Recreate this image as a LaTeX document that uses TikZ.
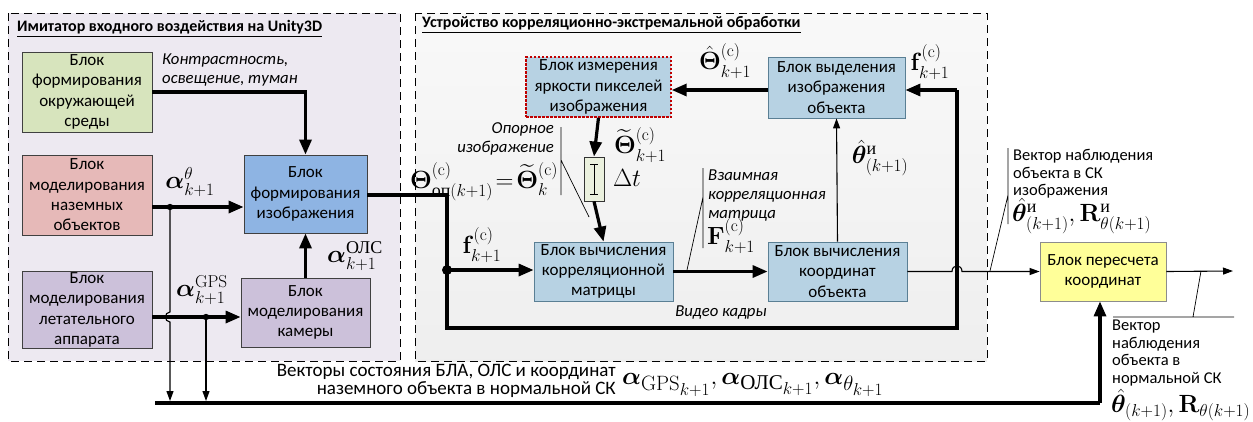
\documentclass[tikz,border=0pt]{standalone}
\usepackage{amsmath}
\usepackage{bm}
\usepackage[no-math]{fontspec}
\setmainfont{Carlito}
\newfontfamily\cyrserif{Liberation Serif}
\usetikzlibrary{arrows.meta,calc}
\DeclareMathSizes{24}{24}{18}{14}
\DeclareMathSizes{28}{28}{21}{16}
\newcommand{\cy}[1]{\text{\cyrserif #1}}
\newcommand{\bxf}{\fontsize{17}{20.3}\selectfont}
\newcommand{\itf}{\fontsize{16.7}{19}\selectfont\itshape}
\newcommand{\smf}{\fontsize{16.5}{17.7}\selectfont}
\newcommand{\fmf}{\fontsize{24}{28}\selectfont}
\definecolor{leftbg}{HTML}{EDE9F1}
\definecolor{midbg}{HTML}{EEEEEE}
\definecolor{envc}{HTML}{D7E4BD}
\definecolor{gndc}{HTML}{E6B9B8}
\definecolor{purc}{HTML}{CCC1DA}
\definecolor{imgc}{HTML}{8EB4E3}
\definecolor{stc}{HTML}{B7D2E3}
\definecolor{stb}{HTML}{5A7F94}
\definecolor{yelc}{HTML}{FFFF99}
\definecolor{dlyc}{HTML}{EBF1DE}
\definecolor{redb}{HTML}{C00000}
\begin{document}
\begin{tikzpicture}[x=1pt,y=-1pt,
  box/.style={draw=black!75, line width=0.8pt, align=center, font=\bxf, inner sep=1pt},
  sbox/.style={box, draw=stb, fill=stc},
  panel/.style={draw=black, line width=1pt, dash pattern=on 8pt off 5pt},
  thk/.style={line width=3.2pt},
  thkar/.style={thk, -{Triangle[length=15pt,width=12pt]}},
  thn/.style={line width=1.1pt},
  thnar/.style={thn, -{Triangle[length=10pt,width=7pt]}},
  fm/.style={font=\fmf, inner sep=0pt},
  ptr/.style={line width=0.7pt}]
\useasboundingbox (0,0) rectangle (1253,421);
% panels
\fill[leftbg] (8,13) rectangle (400,361);
\draw[panel] (8,13) rectangle (400,361);
\shade[top color=gray!5, bottom color=gray!13] (415,13) rectangle (987,361);
\draw[panel] (415,13) rectangle (987,361);
\node[anchor=west, font=\fontsize{16}{19}\selectfont\bfseries, inner sep=0pt] (t1) at (17,29) {\underline{Имитатор входного воздействия на Unity3D}};
\node[anchor=west, font=\fontsize{16}{19}\selectfont\bfseries, inner sep=0pt] (t2) at (422,25) {\underline{Устройство корреляционно-экстремальной обработки}};
% blocks left
\node[box, fill=envc, minimum width=130pt, minimum height=80pt] (env) at (87,92) {Блок\\формирования\\окружающей\\среды};
\node[box, fill=gndc, minimum width=130pt, minimum height=80pt] (gnd) at (87,195) {Блок\\моделирования\\наземных\\объектов};
\node[box, fill=purc, minimum width=130pt, minimum height=74pt] (uav) at (87,310) {Блок\\моделирования\\летательного\\аппарата};
\node[box, fill=imgc, minimum width=123pt, minimum height=78pt] (img) at (305.5,194) {Блок\\формирования\\изображения};
\node[box, fill=purc, minimum width=129pt, minimum height=69pt] (cam) at (305.5,312.5) {Блок\\моделирования\\камеры};
% blocks middle
\node[sbox, draw=redb, line width=1.4pt, dash pattern=on 2.5pt off 1.5pt, minimum width=145pt, minimum height=60pt] (meas) at (598.5,87) {Блок измерения\\яркости пикселей\\изображения};
\node[sbox, minimum width=137pt, minimum height=61pt] (sel) at (836.5,87.5) {Блок выделения\\изображения\\объекта};
\node[box, fill=dlyc, draw=black!80, minimum width=20pt, minimum height=44pt] (dly) at (594,179) {};
\node[sbox, minimum width=139pt, minimum height=59pt] (corr) at (603.5,271.5) {Блок вычисления\\корреляционной\\матрицы};
\node[sbox, minimum width=139pt, minimum height=59pt] (crd) at (837.5,271.5) {Блок вычисления\\координат\\объекта};
\node[box, fill=yelc, draw=black!45, minimum width=126pt, minimum height=59pt] (rec) at (1103,271.5) {Блок пересчета\\координат};
% delay symbol
\draw[line width=0.9pt] (590,164) -- (598,164) (594,164) -- (594,194) (590,194) -- (598,194);
% coordinates
\coordinate (j1) at (170,207);
\coordinate (j2) at (206,317);
\coordinate (j3) at (447,270);
\coordinate (c1) at (447,195);
\coordinate (c2) at (447,328);
\coordinate (c3) at (957,328);
\coordinate (c4) at (957,90);
\coordinate (outp) at (1233,271);
\coordinate (busl) at (155,403);
\coordinate (busr) at (1100,403);
% connectors left
\draw[thkar] (env.east) -| (img.north);
\draw[thk] (gnd.east |- j1) -- (j1);
\draw[thkar] (j1) -- (img.west |- j1);
\draw[thk] (uav.east |- j2) -- (j2);
\draw[thkar] (j2) -- (cam.west |- j2);
\draw[thkar] (cam.north) -- (img.south);
\fill (j1) circle (3.2);
\fill (j2) circle (3.2);
\draw[thnar] (j1) -- (170,312) .. controls (164,312) and (164,322) .. (170,322) -- (170,401);
\draw[thnar] (j2) -- (206,401);
% main loop
\draw[thk] (img.east |- c1) -- (c1) -- (c2) -- (c3) -- (c4);
\draw[thkar] (c4) -- (sel.east |- c4);
\fill (j3) circle (5);
\draw[thkar] (j3) -- (corr.west |- j3);
\draw[thkar] (sel.west |- c4) -- (meas.east |- c4);
\draw[thkar] (meas.south) -- (dly.north);
\draw[thkar] (dly.south) -- (corr.north);
\draw[thkar] (corr.east) -- (crd.west);
\draw[thnar] (crd.north) -- (sel.south);
\draw[thnar] (crd.east) -- (952,271.5) .. controls (952,264) and (962,264) .. (962,271.5) -- (rec.west);
\draw[thnar] (rec.east) -- (outp);
% bus
\draw[thk] (busl) -- (busr);
\draw[thkar] (busr) -- (busr |- rec.south);
% pointer lines
\draw[ptr] (561,127) -- (561,195) (561,160) -- (589,217);
\draw[ptr] (703,168) -- (703,248) (703,197) -- (687,270);
\draw[ptr] (1008,148) -- (1008,224) (1008,195) -- (990,271);
\draw[ptr] (1113,317) -- (1234,317) (1193,317) -- (1201,271);
% text labels
\node[anchor=west, align=left, font=\itf, inner sep=0pt] (lcon) at (162,70) {Контрастность,\\освещение, туман};
\node[anchor=east, align=right, font=\itf, inner sep=0pt] (lop) at (554,139) {Опорное\\изображение};
\node[anchor=west, align=left, font=\itf, inner sep=0pt] (lvz) at (708,196) {Взаимная\\корреляционная\\матрица};
\node[font=\itf, inner sep=0pt] (lvid) at (721,313) {Видео кадры};
\node[anchor=west, align=left, font=\smf, inner sep=0pt] (lvec1) at (1013,174) {Вектор наблюдения\\объекта в СК\\изображения};
\node[anchor=west, align=left, font=\smf, inner sep=0pt] (lvec2) at (1112,353) {Вектор\\наблюдения\\объекта в\\нормальной СК};
\node[anchor=east, align=right, font=\fontsize{19}{17.5}\selectfont, inner sep=0pt] (lbus) at (616,381) {Векторы состояния БЛА, ОЛС и координат\\наземного объекта в нормальной СК};
% formulas
\node[fm] (fa1) at (190,182) {$\bm{\alpha}^{\theta}_{k+1}$};
\node[fm] (fa2) at (202,290) {$\bm{\alpha}^{\mathrm{GPS}}_{k+1}$};
\node[fm] (fa3) at (355,256) {$\bm{\alpha}^{\cy{ОЛС}}_{k+1}$};
\node[fm] (fth1) at (725,61) {$\hat{\bm{\Theta}}^{(\mathrm{c})}_{k+1}$};
\node[fm] (fth2) at (640,145) {$\widetilde{\bm{\Theta}}^{(\mathrm{c})}_{k+1}$};
\node[fm] (fdt) at (627,178) {$\Delta t$};
\node[fm] (fop) at (484,182) {$\bm{\Theta}^{(\mathrm{c})}_{\cy{оп}(k+1)}\!=\!\widetilde{\bm{\Theta}}^{(\mathrm{c})}_{k}$};
\node[fm] (ff1) at (482,245) {$\mathbf{f}^{(\mathrm{c})}_{k+1}$};
\node[fm] (ff2) at (930,62) {$\mathbf{f}^{(\mathrm{c})}_{k+1}$};
\node[fm] (fF) at (731,236) {$\mathbf{F}^{(\mathrm{c})}_{k+1}$};
\node[fm] (fthi) at (880,158) {$\hat{\bm{\theta}}^{\cy{и}}_{(k+1)}$};
\node[fm, anchor=west] (fthr) at (1012,216) {$\hat{\bm{\theta}}^{\cy{и}}_{(k+1)},\mathbf{R}^{\cy{и}}_{\theta(k+1)}$};
\node[fm, anchor=west] (fthn) at (1111,405) {$\hat{\bm{\theta}}_{(k+1)},\mathbf{R}_{\theta(k+1)}$};
\node[fm, anchor=west, font=\fontsize{28}{32}\selectfont] (fbus) at (622,385) {$\bm{\alpha}_{\mathrm{GPS}_{k+1}},\bm{\alpha}_{\cy{ОЛС}_{k+1}},\bm{\alpha}_{\theta_{k+1}}$};
\end{tikzpicture}
\end{document}
